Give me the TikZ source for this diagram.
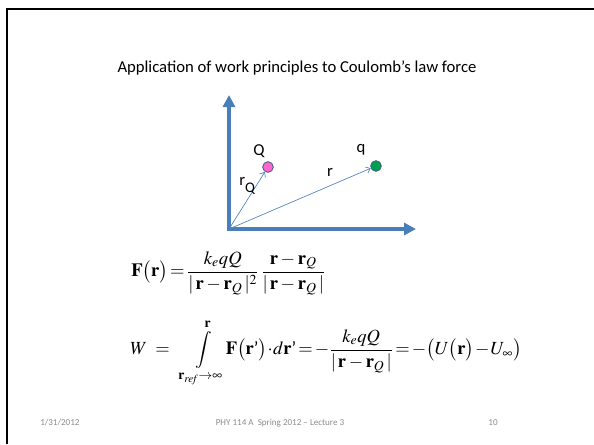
\documentclass[tikz,border=0pt]{standalone}
\usepackage{amsmath}
\usepackage{mathptmx}
\usepackage[no-math]{fontspec}
\setmainfont{Carlito}
\usetikzlibrary{arrows.meta}
\definecolor{axisblue}{HTML}{4A7EBB}
\definecolor{vecblue}{HTML}{4F81BD}
\definecolor{pinkdot}{HTML}{FF66CC}
\definecolor{greendot}{HTML}{00A050}
\definecolor{dotline}{HTML}{385D8A}
\definecolor{footgray}{HTML}{8C8C8C}
\tikzset{
  axis/.style={draw=axisblue, line width=2.3pt, -{Triangle[length=9pt,width=9pt]}},
  vec/.style={draw=vecblue, line width=0.5pt, -{Straight Barb[length=3pt,width=5pt]}},
  dot/.style={circle, draw=dotline, line width=0.6pt, minimum size=8pt, inner sep=0pt},
  lbl/.style={font=\fontsize{12.5}{15}\selectfont, inner sep=0pt},
  foot/.style={font=\fontsize{6.8}{8}\selectfont, text=footgray, inner sep=0pt},
  eq/.style={font=\fontsize{14}{17}\selectfont, inner sep=0pt, anchor=west}
}
\begin{document}
\begin{tikzpicture}[x=0.75pt,y=-0.75pt]
\useasboundingbox (0,0) rectangle (594,444);
\fill[white] (0,0) rectangle (594,444);
% slide frame
\draw[line width=1.6pt] (7,444) -- (7,9) -- (594,9);
% title
\node[font=\fontsize{12.5}{15}\selectfont, inner sep=0pt] (title) at (297,68) {Application of work principles to Coulomb’s law force};
% axes
\coordinate (o) at (229,229);
\coordinate (ytop) at (229,95);
\coordinate (xend) at (416,229);
\draw[axis] (229,230.5) -- (ytop);
\draw[axis] (227.5,229) -- (xend);
% charges
\node[dot, fill=pinkdot] (Qd) at (268,167) {};
\node[dot, fill=greendot] (qd) at (376,166) {};
\draw[vec] (o) -- (Qd);
\draw[vec] (o) -- (qd);
\node[lbl] (Ql) at (259,151) {Q};
\node[lbl] (ql) at (361,150) {q};
\node[lbl] (rl) at (330,172) {r};
\node[lbl, anchor=west] (rQl) at (239,186) {r\raisebox{-0.45em}{\fontsize{11}{13}\selectfont Q}};
% equations
\node[eq] (eq1) at (131,273) {$\mathbf{F}\bigl(\mathbf{r}\bigr)\!=\!\dfrac{k_e qQ}{|\,\mathbf{r}-\mathbf{r}_Q\,|^2}\,\dfrac{\mathbf{r}-\mathbf{r}_Q}{|\,\mathbf{r}-\mathbf{r}_Q\,|}$};
\node[eq, font=\fontsize{13.9}{17}\selectfont] (eq2) at (130,353) {$\displaystyle W\;=\;\;\int\limits_{\mathbf{r}_{\mathit{ref}}\to\infty}^{\mathbf{r}}\!\mathbf{F}\bigl(\mathbf{r}\text{'}\bigr)\!\cdot\! d\mathbf{r}\text{'}\!=\!{-}\dfrac{k_e qQ}{|\,\mathbf{r}-\mathbf{r}_Q\,|}\!=\!{-}\bigl(U\bigl(\mathbf{r}\bigr)\mkern1mu{-}\mkern1mu U_{\infty}\bigr)$};
% footer
\node[foot, anchor=west] (date) at (40,423) {1/31/2012};
\node[foot] (course) at (280,423) {PHY 114 A\ \ Spring 2012 -- Lecture 3};
\node[foot] (page) at (493,423) {10};
\end{tikzpicture}
\end{document}
